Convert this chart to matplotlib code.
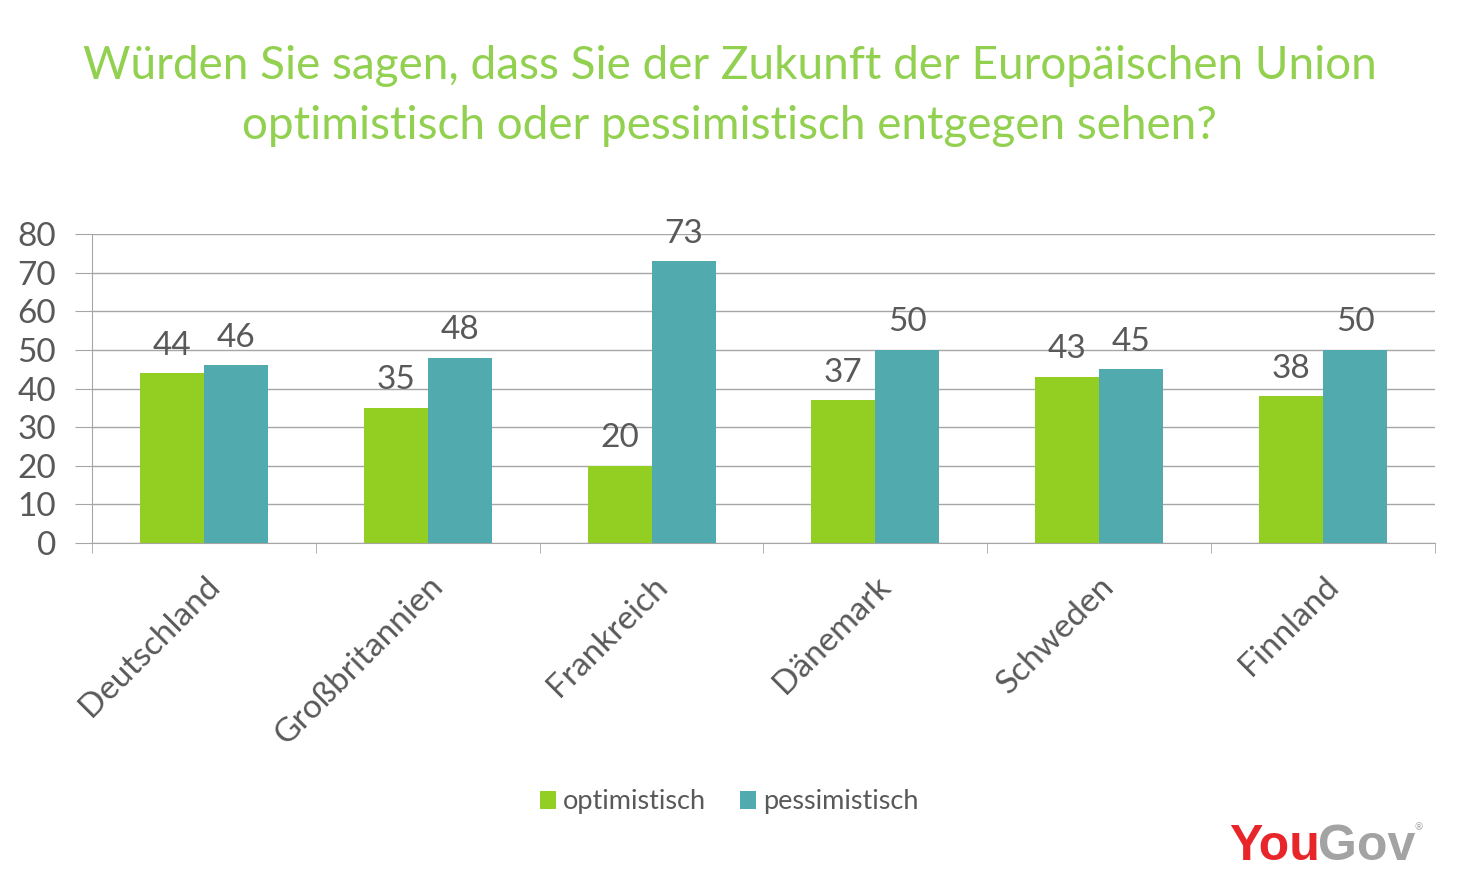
import numpy as np
import matplotlib.pyplot as plt

# Daten
laender = ['Deutschland', 'Großbritannien', 'Frankreich', 'Dänemark', 'Schweden', 'Finnland']
optimistisch = [44, 35, 20, 37, 43, 38]
pessimistisch = [46, 48, 73, 50, 45, 50]

gruen = '#92CF22'
tuerkis = '#51ABAE'
grau_text = '#595959'
grau_linie = '#A6A6A6'

plt.rcParams['font.family'] = ['Lato', 'DejaVu Sans']

fig = plt.figure(figsize=(14.59, 8.86), dpi=100)
ax = fig.add_axes([92 / 1459, 1 - 543 / 886, (1435 - 92) / 1459, (543 - 234) / 886])

x = np.arange(len(laender))
w = 0.286
b1 = ax.bar(x - w / 2, optimistisch, w, color=gruen, label='optimistisch', zorder=3)
b2 = ax.bar(x + w / 2, pessimistisch, w, color=tuerkis, label='pessimistisch', zorder=3)
ax.bar_label(b1, padding=9, fontsize=24, color=grau_text)
ax.bar_label(b2, padding=9, fontsize=24, color=grau_text)

ax.set_xlim(-0.5, len(laender) - 0.5)
ax.set_ylim(0, 80)
ax.set_yticks(range(0, 81, 10))
ax.grid(axis='y', color=grau_linie, linewidth=1, zorder=0)

ax.set_xticks(x)
ax.set_xticklabels(laender, rotation=45, ha='right', rotation_mode='anchor', fontsize=24, color=grau_text)
ax.set_xticks(np.arange(-0.5, len(laender)), minor=True)
ax.tick_params(axis='x', which='major', length=0, pad=20)
ax.tick_params(axis='x', which='minor', length=7, color=grau_linie)
ax.tick_params(axis='y', length=12, color=grau_linie, labelsize=24, labelcolor=grau_text, pad=14)

for s in ['top', 'right']:
    ax.spines[s].set_visible(False)
for s in ['left', 'bottom']:
    ax.spines[s].set_color(grau_linie)

fig.text(0.5, 1 - 96 / 886, 'Würden Sie sagen, dass Sie der Zukunft der Europäischen Union\n'
         'optimistisch oder pessimistisch entgegen sehen?',
         ha='center', va='center', fontsize=33, color='#92D050', linespacing=1.52)

ax.legend(loc='center', bbox_to_anchor=(0.5, (886 - 802) / 886), bbox_transform=fig.transFigure,
          ncol=2, frameon=False, fontsize=19.5, handlelength=0.6, handleheight=0.6,
          handletextpad=0.25, columnspacing=1.25, labelcolor=grau_text)

# Logo
t1 = fig.text(1229 / 1459, 1 - 860 / 886, 'You', fontsize=36, fontweight='bold',
              color='#E8262A', family='Liberation Sans', ha='left', va='baseline')
t2 = fig.text(0, 0, 'Gov', fontsize=36, fontweight='bold', color='#A3A3A3',
              family='Liberation Sans')
fig.canvas.draw()
bb = t1.get_window_extent()
t2.set_position((bb.x1 / 1459 - 0.001, 1 - 860 / 886))
t2.set_va('baseline')
fig.text(1419 / 1459, 1 - 828 / 886, '®', fontsize=7, color='#A3A3A3', ha='center', va='center')

fig.savefig('out.png', dpi=100, facecolor='white')
